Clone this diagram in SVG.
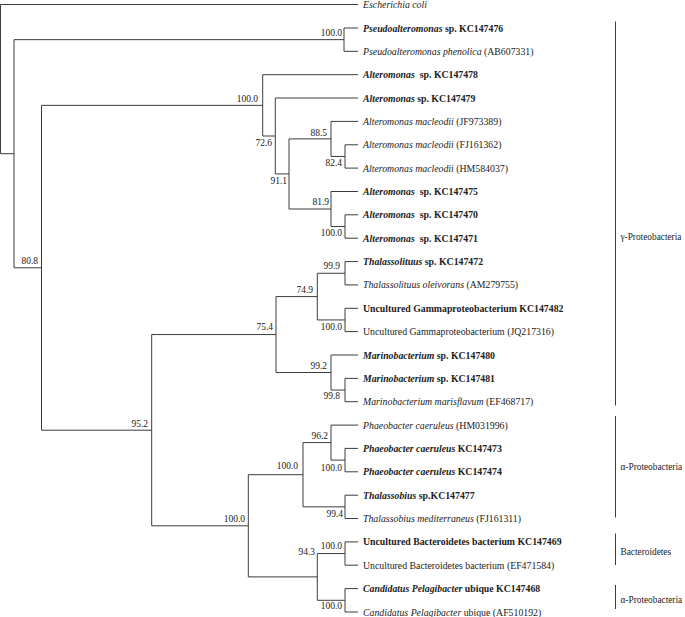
<svg xmlns="http://www.w3.org/2000/svg" width="685" height="617" viewBox="0 0 685 617">
<style>
text{font-family:"Liberation Serif","Times New Roman",serif;font-size:9.8px;fill:#222}
.b{font-weight:bold}
.i{font-style:italic}
.bs{text-anchor:end;font-size:9.5px}
.g{font-size:9.3px}
.e{fill:none;stroke:#3c3c3c;stroke-width:1}
</style>
<rect width="685" height="617" fill="#fff"/>
<g id="connectors" class="e">
<path d="M0.5 4.5V153.7M0.5 4.5H358M0.5 153.7H14"/>
<path d="M14 39.65V267.8M14 39.65H344M14 267.8H41.5"/>
<path d="M344 28V51.3M344 28H358M344 51.3H358"/>
<path d="M41.5 105.35V430.2M41.5 105.35H262.7M41.5 430.2H151.7"/>
<path d="M262.7 74.7V136M262.7 74.7H358M262.7 136H275.3"/>
<path d="M275.3 98V173.95M275.3 98H358M275.3 173.95H289"/>
<path d="M289 138.9V209M289 138.9H331M289 209H331"/>
<path d="M331 121.4V156.45M331 121.4H358M331 156.45H345"/>
<path d="M345 144.8V168.1M345 144.8H358M345 168.1H358"/>
<path d="M331 191.5V226.5M331 191.5H358M331 226.5H345"/>
<path d="M345 214.8V238.2M345 214.8H358M345 238.2H358"/>
<path d="M151.7 334.55V525.8M151.7 334.55H276M151.7 525.8H248.3"/>
<path d="M276 296.6V372.5M276 296.6H317.3M276 372.5H331"/>
<path d="M317.3 273.25V319.95M317.3 273.25H345M317.3 319.95H345"/>
<path d="M345 261.6V284.9M345 261.6H358M345 284.9H358"/>
<path d="M345 308.3V331.6M345 308.3H358M345 331.6H358"/>
<path d="M331 355V390.05M331 355H358M331 390.05H345"/>
<path d="M345 378.4V401.7M345 378.4H358M345 401.7H358"/>
<path d="M248.3 474.7V576.9M248.3 474.7H303M248.3 576.9H317.3"/>
<path d="M303 442.6V506.85M303 442.6H331M303 506.85H345"/>
<path d="M331 425.1V460.1M331 425.1H358M331 460.1H345"/>
<path d="M345 448.4V471.8M345 448.4H358M345 471.8H358"/>
<path d="M345 495.2V518.5M345 495.2H358M345 518.5H358"/>
<path d="M317.3 553.55V600.3M317.3 553.55H345M317.3 600.3H345"/>
<path d="M345 541.9V565.2M345 541.9H358M345 565.2H358"/>
<path d="M345 588.6V612M345 588.6H358M345 612H358"/>
</g>
<g id="bootstrap">
<g id="n_pseudo"><text class="bs" x="342" y="36">100.0</text></g>
<g id="n_alt"><text class="bs" x="258" y="102">100.0</text></g>
<g id="n_726"><text class="bs" x="272" y="145.5">72.6</text></g>
<g id="n_885"><text class="bs" x="327" y="136">88.5</text></g>
<g id="n_824"><text class="bs" x="342" y="166">82.4</text></g>
<g id="n_911"><text class="bs" x="287" y="184">91.1</text></g>
<g id="n_819"><text class="bs" x="329" y="205">81.9</text></g>
<g id="n_alt2"><text class="bs" x="342" y="236">100.0</text></g>
<g id="n_808"><text class="bs" x="38" y="263.5">80.8</text></g>
<g id="n_999"><text class="bs" x="340" y="269">99.9</text></g>
<g id="n_749"><text class="bs" x="313" y="293">74.9</text></g>
<g id="n_754"><text class="bs" x="273" y="330">75.4</text></g>
<g id="n_unc"><text class="bs" x="342" y="329.5">100.0</text></g>
<g id="n_992"><text class="bs" x="327" y="368.5">99.2</text></g>
<g id="n_998"><text class="bs" x="340" y="399">99.8</text></g>
<g id="n_952"><text class="bs" x="148" y="427">95.2</text></g>
<g id="n_962"><text class="bs" x="328" y="439">96.2</text></g>
<g id="n_alpha"><text class="bs" x="298" y="469">100.0</text></g>
<g id="n_phaeo"><text class="bs" x="342" y="471">100.0</text></g>
<g id="n_994"><text class="bs" x="343" y="517">99.4</text></g>
<g id="n_low"><text class="bs" x="245" y="521.5">100.0</text></g>
<g id="n_bact"><text class="bs" x="342" y="549">100.0</text></g>
<g id="n_943"><text class="bs" x="315" y="555">94.3</text></g>
<g id="n_cand"><text class="bs" x="342" y="609">100.0</text></g>
</g>
<g id="leaves">
<g id="l0"><text x="363" y="8"><tspan class="i">Escherichia coli</tspan></text></g>
<g id="l1"><text x="363" y="31.5" class="b"><tspan class="i">Pseudoalteromonas</tspan> sp. KC147476</text></g>
<g id="l2"><text x="363" y="54.8"><tspan class="i">Pseudoalteromonas phenolica</tspan> (AB607331)</text></g>
<g id="l3"><text x="363" y="78.2" class="b"><tspan class="i">Alteromonas</tspan><tspan dx="5">sp. KC147478</tspan></text></g>
<g id="l4"><text x="363" y="101.5" class="b"><tspan class="i">Alteromonas</tspan> sp. KC147479</text></g>
<g id="l5"><text x="363" y="124.9"><tspan class="i">Alteromonas macleodii</tspan> (JF973389)</text></g>
<g id="l6"><text x="363" y="148.3"><tspan class="i">Alteromonas macleodii</tspan> (FJ161362)</text></g>
<g id="l7"><text x="363" y="171.6"><tspan class="i">Alteromonas macleodii</tspan> (HM584037)</text></g>
<g id="l8"><text x="363" y="195" class="b"><tspan class="i">Alteromonas</tspan><tspan dx="5">sp. KC147475</tspan></text></g>
<g id="l9"><text x="363" y="218.3" class="b"><tspan class="i">Alteromonas</tspan><tspan dx="5">sp. KC147470</tspan></text></g>
<g id="l10"><text x="363" y="241.7" class="b"><tspan class="i">Alteromonas</tspan><tspan dx="5">sp. KC147471</tspan></text></g>
<g id="l11"><text x="363" y="265.1" class="b"><tspan class="i">Thalassolituus</tspan> sp. KC147472</text></g>
<g id="l12"><text x="363" y="288.4"><tspan class="i">Thalassolituus oleivorans</tspan> (AM279755)</text></g>
<g id="l13"><text x="363" y="311.8" class="b">Uncultured Gammaproteobacterium KC147482</text></g>
<g id="l14"><text x="363" y="335.1">Uncultured Gammaproteobacterium (JQ217316)</text></g>
<g id="l15"><text x="363" y="358.5" class="b"><tspan class="i">Marinobacterium</tspan> sp. KC147480</text></g>
<g id="l16"><text x="363" y="381.9" class="b"><tspan class="i">Marinobacterium</tspan> sp. KC147481</text></g>
<g id="l17"><text x="363" y="405.2"><tspan class="i">Marinobacterium marisflavum</tspan> (EF468717)</text></g>
<g id="l18"><text x="363" y="428.6"><tspan class="i">Phaeobacter caeruleus</tspan> (HM031996)</text></g>
<g id="l19"><text x="363" y="451.9" class="b"><tspan class="i">Phaeobacter caeruleus</tspan> KC147473</text></g>
<g id="l20"><text x="363" y="475.3" class="b"><tspan class="i">Phaeobacter caeruleus</tspan> KC147474</text></g>
<g id="l21"><text x="363" y="498.7" class="b"><tspan class="i">Thalassobius</tspan> sp.KC147477</text></g>
<g id="l22"><text x="363" y="522"><tspan class="i">Thalassobius mediterraneus</tspan> (FJ161311)</text></g>
<g id="l23"><text x="363" y="545.4" class="b">Uncultured Bacteroidetes bacterium KC147469</text></g>
<g id="l24"><text x="363" y="568.7">Uncultured Bacteroidetes bacterium (EF471584)</text></g>
<g id="l25"><text x="363" y="592.1" class="b"><tspan class="i">Candidatus Pelagibacter</tspan> ubique KC147468</text></g>
<g id="l26"><text x="363" y="615.5"><tspan class="i">Candidatus Pelagibacter</tspan> ubique (AF510192)</text></g>
</g>
<g id="groups">
<g id="g_gamma"><path class="e" d="M615.5 21.5V405.5"/><text class="g" x="620.5" y="239.5">γ-Proteobacteria</text></g>
<g id="g_alpha1"><path class="e" d="M615.5 416V517.5"/><text class="g" x="620.5" y="470">α-Proteobacteria</text></g>
<g id="g_bact"><path class="e" d="M615.5 533.5V565"/><text class="g" x="620.5" y="555">Bacteroidetes</text></g>
<g id="g_alpha2"><path class="e" d="M615.5 585V609"/><text class="g" x="620.5" y="603">α-Proteobacteria</text></g>
</g>
</svg>
